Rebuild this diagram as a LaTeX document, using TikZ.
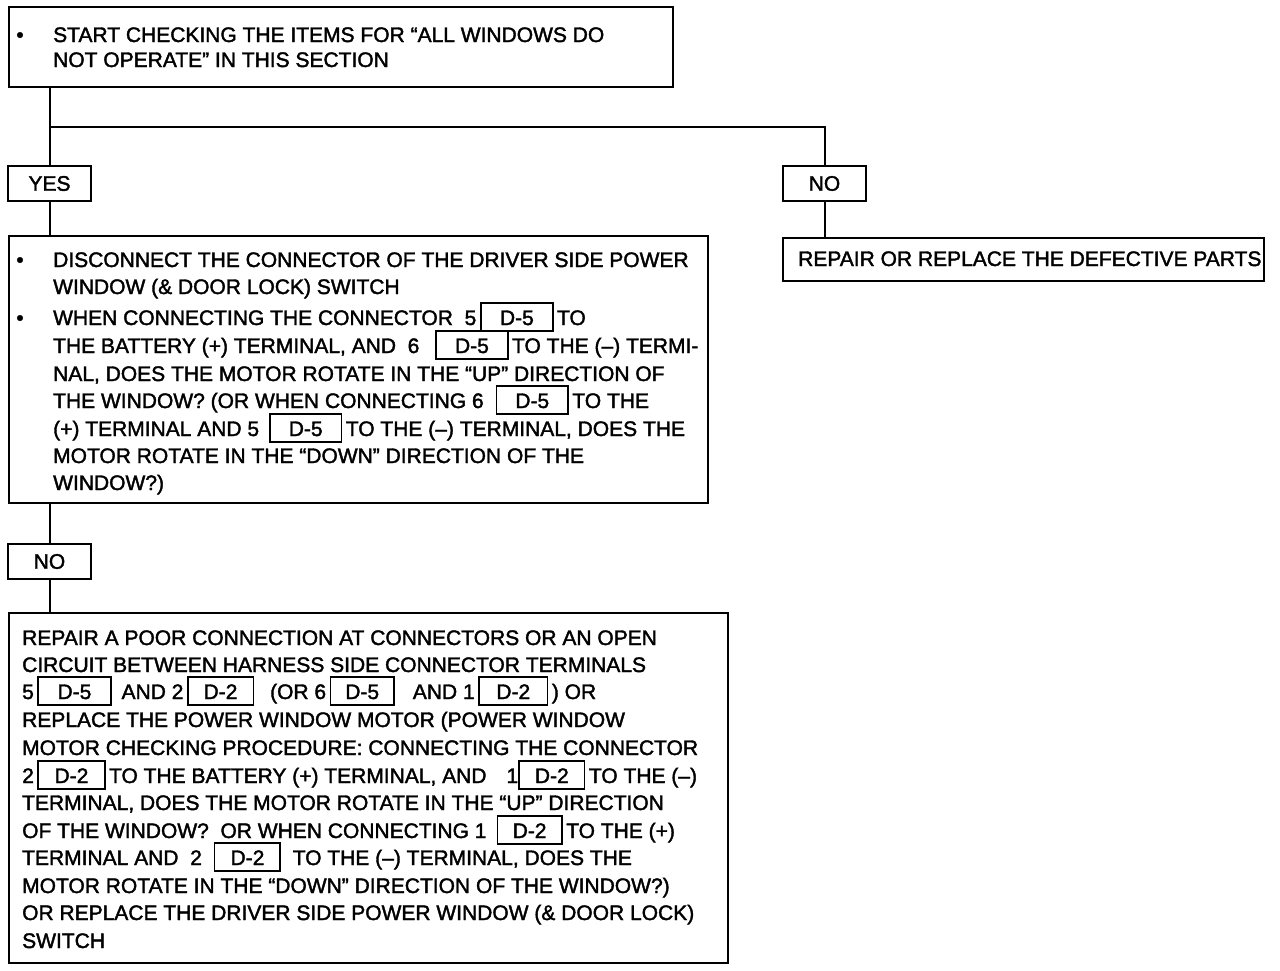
\documentclass[tikz,border=0pt]{standalone}
\usepackage{fontspec}
\setmainfont[FakeBold=1.8]{Liberation Sans}
\newcommand\fs{\fontsize{21}{25}\selectfont}
\newcommand\dbx[2]{{\setlength{\fboxsep}{0pt}\setlength{\fboxrule}{1.6pt}\fbox{\makebox[#1]{\rule[-5pt]{0pt}{26pt}#2}}}}
\tikzset{
  frame/.style={draw, line width=2pt, anchor=north west, inner sep=0pt},
  ln/.style={anchor=base west, inner sep=0pt, font=\fs},
  bul/.style={anchor=base, inner sep=0pt, font=\fs},
  tag/.style={draw, line width=2pt, anchor=north west, inner sep=0pt, font=\fs, minimum width=83pt, minimum height=35pt},
  wire/.style={line width=2pt}
}
\begin{document}
\begin{tikzpicture}[x=1pt,y=-1pt]
\useasboundingbox (0,0) rectangle (1280,970);
% boxes
\node[frame, minimum width=664pt, minimum height=80pt] (b1) at (8,6) {};
\node[tag] (yes) at (7,165) {YES};
\node[tag] (no1) at (782,165) {NO};
\node[frame, minimum width=481pt, minimum height=43pt] (rep) at (782,237) {};
\node[frame, minimum width=699pt, minimum height=267pt] (b2) at (8,235) {};
\node[tag] (no2) at (7,543) {NO};
\node[frame, minimum width=719pt, minimum height=350pt] (b3) at (8,612) {};
% connectors
\coordinate (j) at (yes.north |- 0,127);
\draw[wire] (b1.south -| yes.north) -- (yes.north);
\draw[wire] (j) -| (no1.north);
\draw[wire] (yes.south) -- (yes.south |- b2.north);
\draw[wire] (no1.south) -- (no1.south |- rep.north);
\draw[wire] (b2.south -| no2.north) -- (no2.north);
\draw[wire] (no2.south) -- (no2.south |- b3.north);
% box 1 text
\node[bul] (p1) at (20,42) {\textbullet};
\node[ln] (t1) at (53,42) {START CHECKING THE ITEMS FOR “ALL WINDOWS DO};
\node[ln] (t2) at (53,67) {NOT OPERATE” IN THIS SECTION};
% repair text
\node[ln] (r1) at (798,266) {REPAIR OR REPLACE THE DEFECTIVE PARTS};
% box 2 text
\node[bul] (p2) at (20,267) {\textbullet};
\node[bul] (p3) at (20,325) {\textbullet};
\node[ln] (s1) at (53,267) {DISCONNECT THE CONNECTOR OF THE DRIVER SIDE POWER};
\node[ln] (s2) at (53,294) {WINDOW (\& DOOR LOCK) SWITCH};
\node[ln] (s3) at (53,325) {WHEN CONNECTING THE CONNECTOR\ \ 5\hspace{4pt}\dbx{70pt}{D-5}\,TO};
\node[ln] (s4) at (53,353) {THE BATTERY (+) TERMINAL, AND\ \ 6\hspace{16pt}\dbx{70pt}{D-5}\,TO THE (–) TERMI-};
\node[ln] (s5) at (53,381) {NAL, DOES THE MOTOR ROTATE IN THE “UP” DIRECTION OF};
\node[ln] (s6) at (53,408) {THE WINDOW? (OR WHEN CONNECTING 6\hspace{12pt}\dbx{70pt}{D-5}\,TO THE};
\node[ln] (s7) at (53,436) {(+) TERMINAL AND 5\hspace{10pt}\dbx{70pt}{D-5}\,TO THE (–) TERMINAL, DOES THE};
\node[ln] (s8) at (53,463) {MOTOR ROTATE IN THE “DOWN” DIRECTION OF THE};
\node[ln] (s9) at (53,490) {WINDOW?)};
% box 3 text
\node[ln] (u1) at (22,645) {REPAIR A POOR CONNECTION AT CONNECTORS OR AN OPEN};
\node[ln] (u2) at (22,672) {CIRCUIT BETWEEN HARNESS SIDE CONNECTOR TERMINALS};
\node[ln] (u3) at (22,699) {5\,\dbx{71pt}{D-5}\hspace{10pt}AND 2\,\dbx{64pt}{D-2}\hspace{16pt}(OR 6\,\dbx{62pt}{D-5}\hspace{18pt}AND 1\,\dbx{67pt}{D-2}\,) OR};
\node[ln] (u4) at (22,727) {REPLACE THE POWER WINDOW MOTOR (POWER WINDOW};
\node[ln] (u5) at (22,755) {MOTOR CHECKING PROCEDURE: CONNECTING THE CONNECTOR};
\node[ln] (u6) at (22,783) {2\,\dbx{65pt}{D-2}\,TO THE BATTERY (+) TERMINAL, AND\hspace{20pt}1\dbx{64pt}{D-2}\,TO THE (–)};
\node[ln] (u7) at (22,810) {TERMINAL, DOES THE MOTOR ROTATE IN THE “UP” DIRECTION};
\node[ln] (u8) at (22,838) {OF THE WINDOW?\ \ OR WHEN CONNECTING 1\hspace{10pt}\dbx{63pt}{D-2}\,TO THE (+)};
\node[ln] (u9) at (22,865) {TERMINAL AND\ \ 2\hspace{12pt}\dbx{64pt}{D-2}\ \ TO THE (–) TERMINAL, DOES THE};
\node[ln] (u10) at (22,893) {MOTOR ROTATE IN THE “DOWN” DIRECTION OF THE WINDOW?)};
\node[ln] (u11) at (22,920) {OR REPLACE THE DRIVER SIDE POWER WINDOW (\& DOOR LOCK)};
\node[ln] (u12) at (22,948) {SWITCH};
\end{tikzpicture}
\end{document}
